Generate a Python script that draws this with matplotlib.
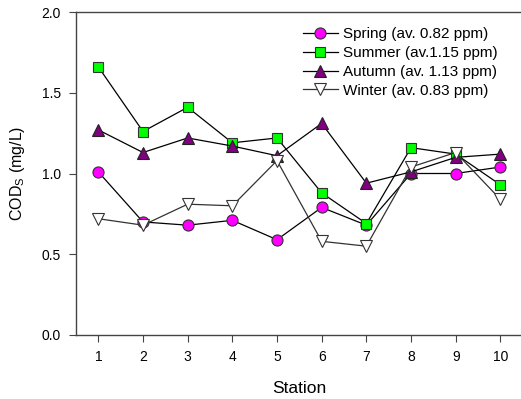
import matplotlib
matplotlib.use("Agg")
import matplotlib.pyplot as plt

plt.rcParams['font.family'] = ['Liberation Sans', 'DejaVu Sans']
plt.rcParams['mathtext.fontset'] = 'custom'
plt.rcParams['mathtext.rm'] = 'Liberation Sans'
plt.rcParams['mathtext.it'] = 'Liberation Sans:italic'

stations = [1, 2, 3, 4, 5, 6, 7, 8, 9, 10]
spring = [1.01, 0.70, 0.68, 0.71, 0.59, 0.79, 0.68, 1.00, 1.00, 1.04]
summer = [1.66, 1.26, 1.41, 1.19, 1.22, 0.88, 0.69, 1.16, 1.12, 0.93]
autumn = [1.27, 1.13, 1.22, 1.17, 1.11, 1.31, 0.94, 1.01, 1.10, 1.12]
winter = [0.72, 0.68, 0.81, 0.80, 1.08, 0.58, 0.55, 1.04, 1.13, 0.84]
labels = ["Spring (av. 0.82 ppm)", "Summer (av.1.15 ppm)",
          "Autumn (av. 1.13 ppm)", "Winter (av. 0.83 ppm)"]

fig = plt.figure(figsize=(5.21, 3.99), dpi=100)
ax = fig.add_axes([76/521, 64/399, 446.7/521, 323/399])

ax.plot(stations, spring, color='black', lw=0.9, marker='o', ms=8,
        mfc='#ff00ff', mec='#333333', mew=0.8, label=labels[0])
ax.plot(stations, summer, color='black', lw=0.9, marker='s', ms=7,
        mfc='#00ff00', mec='#333333', mew=0.8, label=labels[1])
ax.plot(stations, autumn, color='black', lw=0.9, marker='^', ms=8,
        mfc='#800080', mec='#222222', mew=0.8, label=labels[2])
ax.plot(stations, winter, color='#333333', lw=0.9, marker='v', ms=8,
        mfc='white', mec='#333333', mew=0.8, label=labels[3])

ax.set_xlim(0.5, 10.5)
ax.set_ylim(0, 2.0)
ax.set_xticks(stations)
ax.set_yticks([0.0, 0.5, 1.0, 1.5, 2.0])
ax.set_yticklabels(['0.0', '0.5', '1.0', '1.5', '2.0'])
ax.spines['right'].set_visible(False)
for s in ['left', 'bottom', 'top']:
    ax.spines[s].set_color('#444444')
    ax.spines[s].set_linewidth(1.0)
ax.tick_params(direction='out', length=5, width=0.8, colors='#444444',
               labelcolor='black', labelsize=10, pad=6)

ax.set_xlabel('Station', fontsize=12.5, labelpad=12)
ax.set_ylabel(r'COD$_\mathrm{S}$ (mg/L)', fontsize=11.5, labelpad=10)

leg = ax.legend(loc='upper left', bbox_to_anchor=(0.494, 0.972), frameon=False,
                fontsize=11, handlelength=2.3, handletextpad=0.35,
                labelspacing=0.32, borderaxespad=0)

fig.savefig('out.png', dpi=100)
